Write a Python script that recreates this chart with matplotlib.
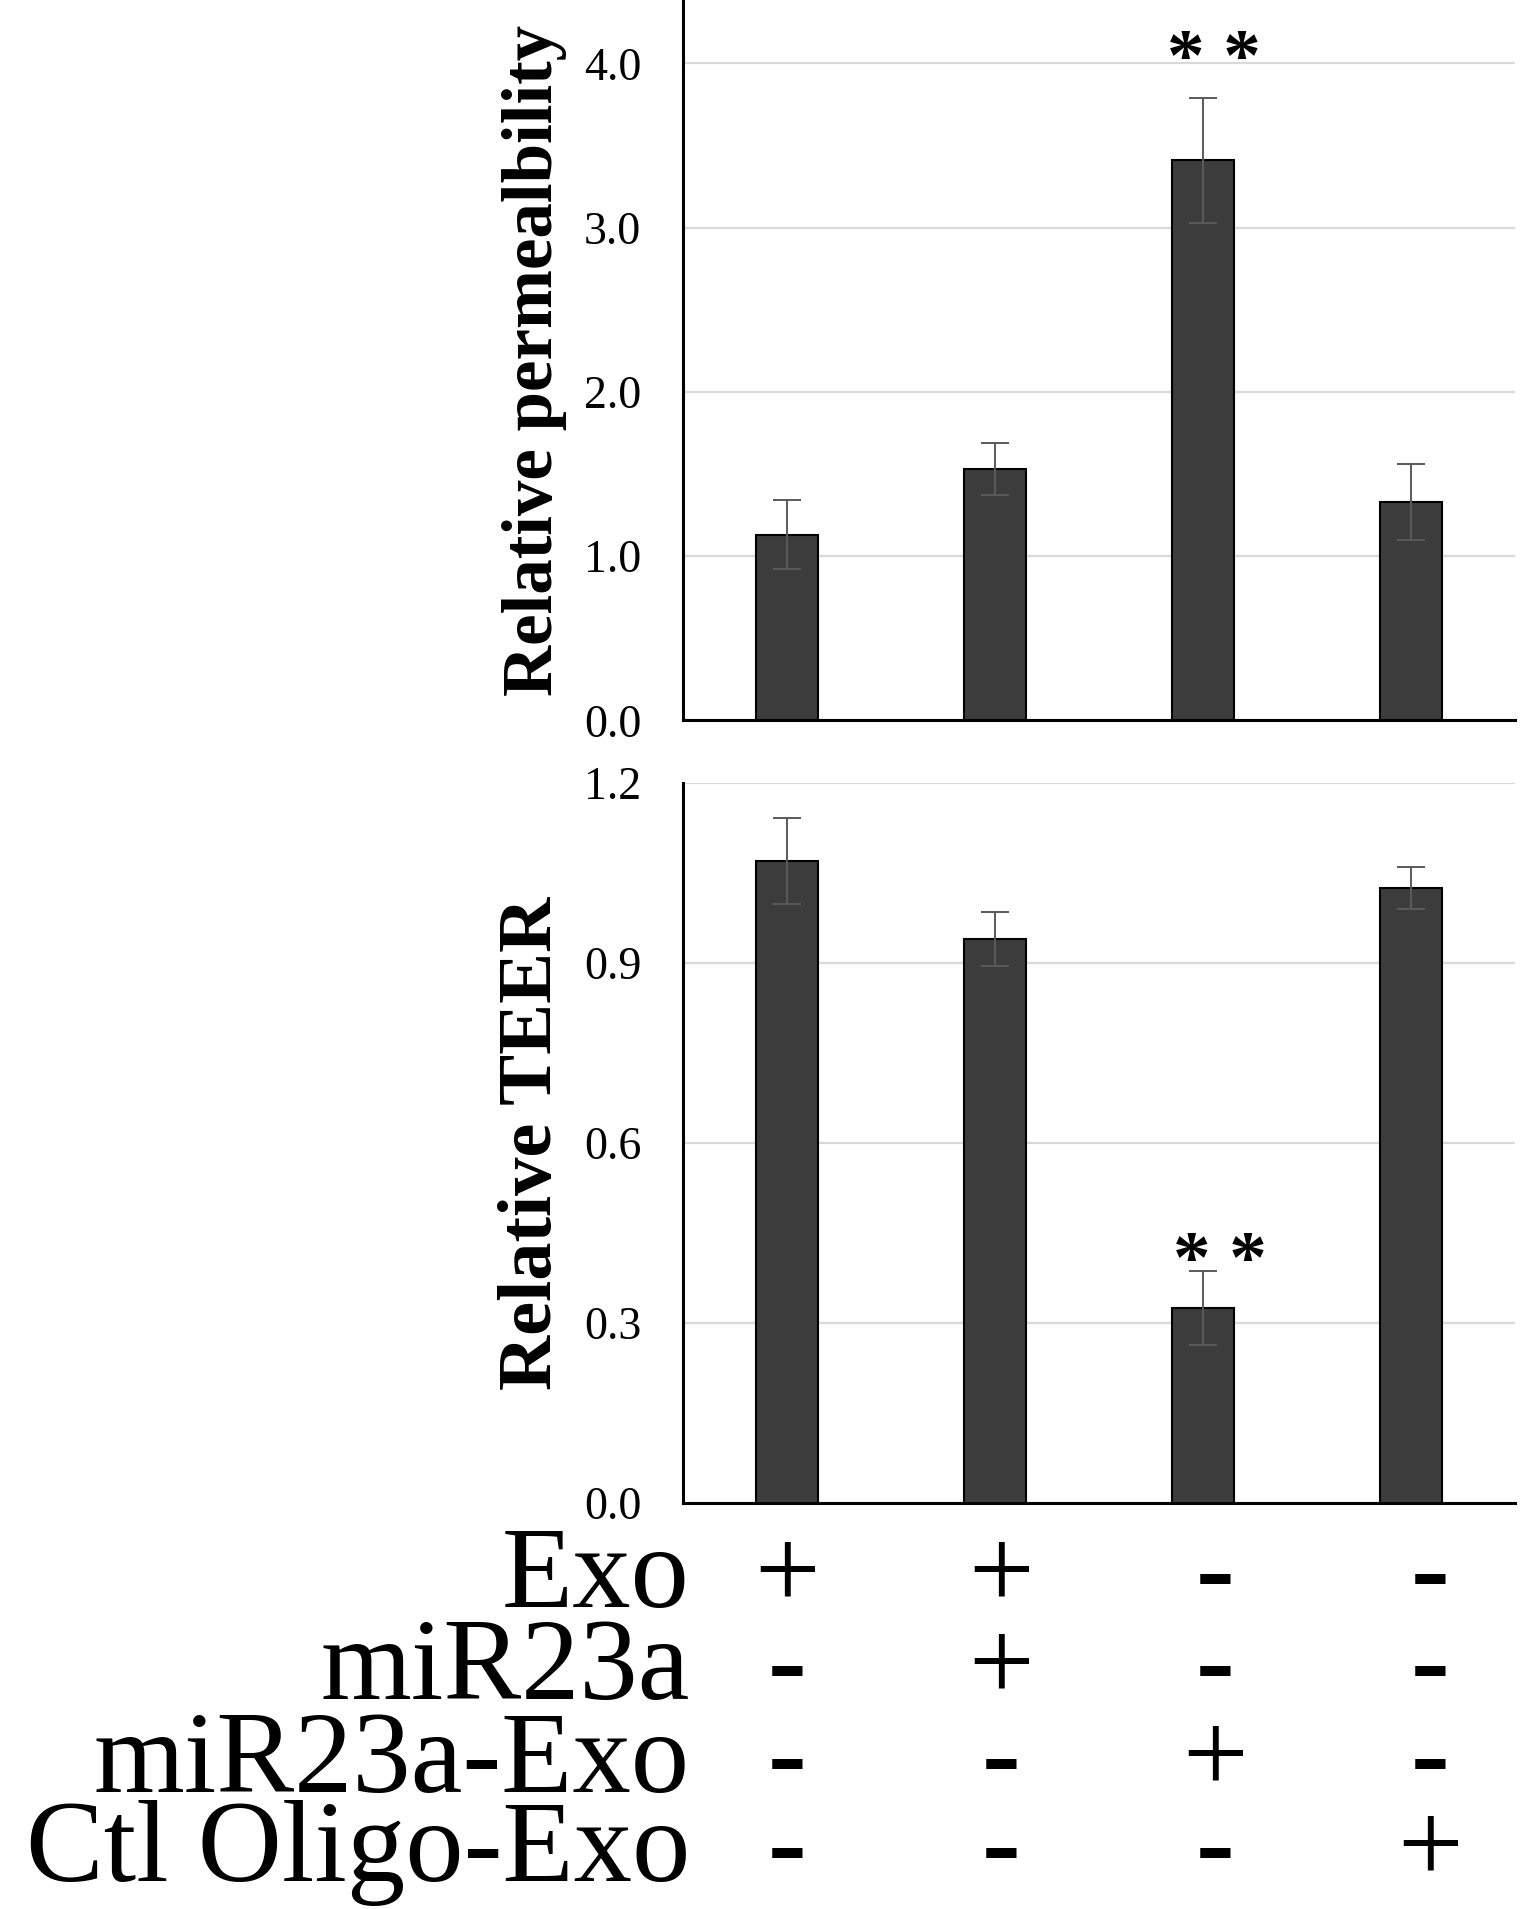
import numpy as np
import matplotlib
matplotlib.use('Agg')
import matplotlib.pyplot as plt
from matplotlib.transforms import blended_transform_factory

plt.rcParams['font.family'] = ['Liberation Serif', 'DejaVu Serif']

# data
groups = ['Exo', 'miR23a', 'miR23a-Exo', 'Ctl Oligo-Exo']
perm_mean = [1.13, 1.53, 3.41, 1.33]
perm_err = [0.21, 0.16, 0.38, 0.23]
teer_mean = [1.07, 0.94, 0.325, 1.025]
teer_err = [0.072, 0.045, 0.062, 0.035]

# treatment table (rows = factor, cols = group)
row_labels = ['Exo', 'miR23a', 'miR23a-Exo', 'Ctl Oligo-Exo']
signs = [['+', '+', '-', '-'],
         ['-', '+', '-', '-'],
         ['-', '-', '+', '-'],
         ['-', '-', '-', '+']]

bar_color = '#3c3c3c'
err_color = '#5a5a5a'
grid_color = '#d9d9d9'

fig = plt.figure(figsize=(15.36, 19.09), dpi=100)
ax1 = fig.add_axes([0.4447, 0.6226, 0.5417, 0.3774])
ax2 = fig.add_axes([0.4447, 0.2127, 0.5417, 0.3771])

x = np.arange(len(groups))


def style_axis(ax, ymax, ticks, fmt, label, lsize):
    ax.set_xlim(-0.5, 3.5)
    ax.set_ylim(0, ymax)
    ax.set_yticks(ticks)
    ax.set_yticklabels([fmt.format(t) for t in ticks], fontsize=33)
    ax.tick_params(axis='y', length=0, pad=30)
    ax.set_xticks([])
    for s in ['top', 'right']:
        ax.spines[s].set_visible(False)
    for s in ['left', 'bottom']:
        ax.spines[s].set_linewidth(2.2)
        ax.spines[s].set_color('black')
    ax.yaxis.grid(True, color=grid_color, linewidth=1.6)
    ax.set_axisbelow(True)
    ax.set_ylabel(label, fontsize=lsize, fontweight='bold')
    ax.yaxis.set_label_coords(-0.14, 0.5)


err_kw = dict(ecolor=err_color, elinewidth=1.4, capsize=10, capthick=1.4)

ax1.bar(x, perm_mean, width=0.3, color=bar_color, edgecolor='black',
        linewidth=1.5, yerr=perm_err, error_kw=err_kw, zorder=3)
style_axis(ax1, 4.385, [0, 1, 2, 3, 4], '{:.1f}', 'Relative permealbility', 51)

ax2.bar(x, teer_mean, width=0.3, color=bar_color, edgecolor='black',
        linewidth=1.5, yerr=teer_err, error_kw=err_kw, zorder=3)
style_axis(ax2, 1.2, [0, 0.3, 0.6, 0.9, 1.2], '{:.1f}', 'Relative TEER', 55)

# significance marks
ax1.text(2.05, 3.90, '* *', ha='center', va='baseline', fontsize=54,
         fontweight='bold')
ax2.text(2.08, 0.368, '* *', ha='center', va='baseline', fontsize=54,
         fontweight='bold')

# treatment table under the plots
row_base = [1607, 1699, 1792, 1881]  # baselines in pixels from top
col_pos = np.arange(4) * 1.03
trans = blended_transform_factory(ax2.transData, fig.transFigure)
for r, lab in enumerate(row_labels):
    yf = 1 - row_base[r] / 1909
    fig.text(690 / 1536, yf, lab, ha='right', va='baseline', fontsize=84)
    for c, s in enumerate(signs[r]):
        if s == '+':
            ax2.text(col_pos[c], yf, '+', transform=trans, ha='center',
                     va='baseline', fontsize=84, clip_on=False)
        else:
            ax2.text(col_pos[c], yf, '-', transform=trans, ha='center',
                     va='baseline', fontsize=84, fontweight='bold',
                     clip_on=False)

fig.savefig('out.png', dpi=100, facecolor='white')
